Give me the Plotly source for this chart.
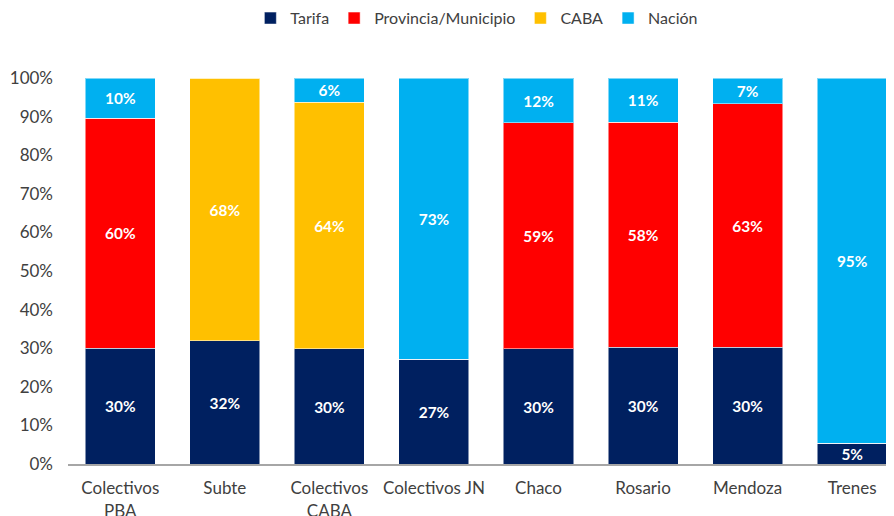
import plotly.graph_objects as go

categorias = ["Colectivos<br>PBA", "Subte", "Colectivos<br>CABA", "Colectivos JN",
              "Chaco", "Rosario", "Mendoza", "Trenes"]

tarifa = [30.0, 31.9, 29.8, 27.2, 29.8, 30.3, 30.3, 5.4]
provincia = [59.6, 0, 0, 0, 58.6, 58.2, 63.0, 0]
caba = [0, 68.1, 63.9, 0, 0, 0, 0, 0]
nacion = [10.4, 0, 6.3, 72.8, 11.6, 11.5, 6.7, 94.6]

tarifa_lbl = ["30%", "32%", "30%", "27%", "30%", "30%", "30%", "5%"]
provincia_lbl = ["60%", "", "", "", "59%", "58%", "63%", ""]
caba_lbl = ["", "68%", "64%", "", "", "", "", ""]
nacion_lbl = ["10%", "", "6%", "73%", "12%", "11%", "7%", "95%"]

series = [
    ("Tarifa", tarifa, tarifa_lbl, "#002060"),
    ("Provincia/Municipio", provincia, provincia_lbl, "#FF0000"),
    ("CABA", caba, caba_lbl, "#FFC000"),
    ("Nación", nacion, nacion_lbl, "#00B0F0"),
]

fig = go.Figure()
for nombre, valores, etiquetas, color in series:
    fig.add_trace(go.Bar(
        x=categorias, y=[v / 100 for v in valores], name=nombre,
        text=etiquetas, textposition="inside", insidetextanchor="middle",
        textangle=0, cliponaxis=False,
        textfont=dict(color="white", size=16, family="Lato", weight="bold"),
        marker=dict(color=color, line=dict(color="rgba(255,255,255,0.5)", width=1)),
        hoverinfo="skip",
    ))

# la pagina deja ~8px de margen en el body, se compensa aqui
fig.update_layout(
    barmode="stack", bargap=0.33,
    width=894, height=516,
    margin=dict(l=60, r=8, t=70, b=60, autoexpand=False),
    plot_bgcolor="white", paper_bgcolor="white",
    font=dict(family="Lato", size=17, color="#404040"),
    uniformtext=dict(minsize=15, mode="show"),
    legend=dict(orientation="h", x=0.495, xanchor="center", y=1.155, yanchor="middle",
                font=dict(size=16, color="#404040"), traceorder="normal",
                itemwidth=30),
    showlegend=True,
)
fig.update_xaxes(range=[-0.5, 7.4], showline=True, linecolor="#A6A6A6", linewidth=2,
                 ticks="", automargin=False, ticklabelstandoff=8, tickfont=dict(size=17))
fig.update_yaxes(range=[0, 1], tickformat=".0%", dtick=0.1, showgrid=False,
                 zeroline=False, showline=False, automargin=False, ticks="",
                 ticklabelstandoff=14, tickfont=dict(size=17))

fig.write_html("out.html")
